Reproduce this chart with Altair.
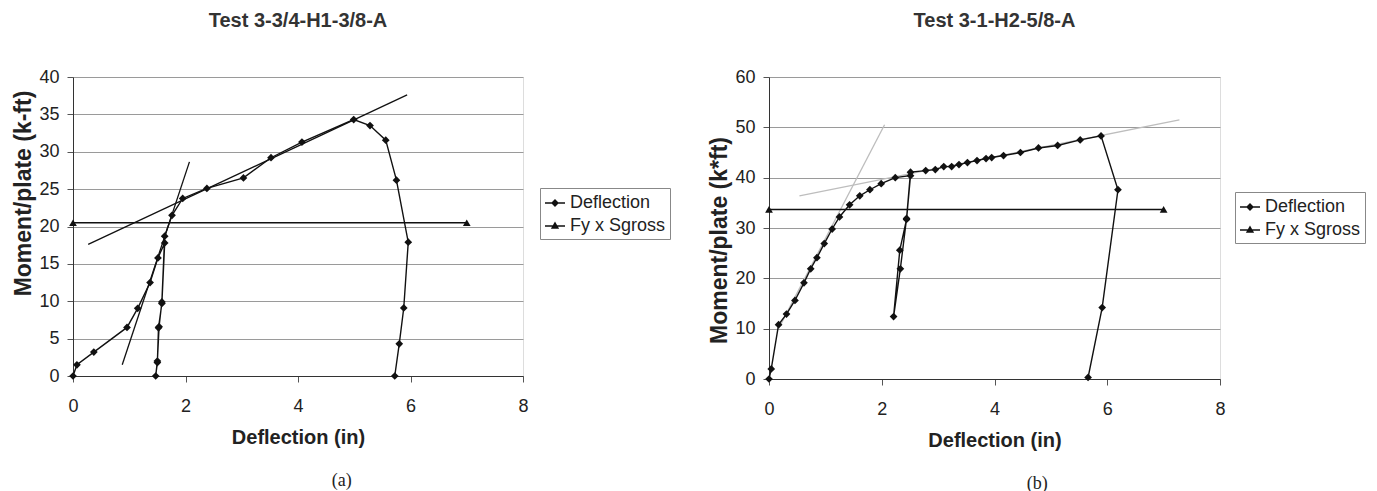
import altair as alt
import pandas as pd

# ---------------- data: panel (a) ----------------
a_defl_x = [0.00, 0.07, 0.37, 0.96, 1.15, 1.37, 1.51, 1.63, 1.58, 1.52, 1.50, 1.47,
            1.50, 1.53, 1.58, 1.63, 1.76, 1.95, 2.38, 3.03, 3.52, 4.07, 4.99,
            5.28, 5.56, 5.75, 5.96, 5.88, 5.80, 5.72]
a_defl_y = [0.0, 1.5, 3.2, 6.5, 9.05, 12.5, 15.8, 17.8, 9.7, 6.45, 1.8, 0.0,
            2.0, 6.6, 9.9, 18.7, 21.5, 23.75, 25.1, 26.5, 29.2, 31.3, 34.3,
            33.5, 31.55, 26.2, 17.9, 9.1, 4.3, 0.0]
a_fy_x = [0.0, 7.0]
a_fy_y = [20.5, 20.5]
a_fit1_x = [0.875, 2.07]
a_fit1_y = [1.5, 28.65]
a_fit2_x = [0.27, 5.94]
a_fit2_y = [17.6, 37.6]

# ---------------- data: panel (b) ----------------
b_defl_x = [0.00, 0.04, 0.17, 0.31, 0.46, 0.62, 0.74, 0.85, 0.98, 1.12, 1.25, 1.43,
            1.61, 1.79, 1.99, 2.24, 2.51, 2.44, 2.32, 2.21, 2.33, 2.44, 2.51, 2.78,
            2.95, 3.10, 3.24, 3.37, 3.52, 3.69, 3.85, 3.95, 4.16, 4.46, 4.78, 5.12,
            5.52, 5.89, 6.19, 5.91, 5.66]
b_defl_y = [0.0, 2.0, 10.8, 12.9, 15.6, 19.1, 21.9, 24.1, 26.9, 29.8, 32.2, 34.6,
            36.4, 37.6, 38.8, 40.0, 40.4, 31.7, 25.6, 12.4, 21.9, 31.9, 41.1, 41.4,
            41.6, 42.2, 42.2, 42.6, 43.0, 43.4, 43.8, 44.0, 44.4, 45.0, 45.9, 46.4,
            47.5, 48.3, 37.6, 14.2, 0.3]
b_fy_x = [0.0, 7.0]
b_fy_y = [33.7, 33.7]
b_fit1_x = [0.17, 2.05]
b_fit1_y = [10.0, 50.5]
b_fit2_x = [0.54, 7.28]
b_fit2_y = [36.4, 51.5]

series_names = ["Deflection", "Fy x Sgross"]
x_ticks = [0, 2, 4, 6, 8]

FONT = "Liberation Sans"
# legend glyphs: a short line with a (stroke-filled) marker in its middle
LEG_DIAMOND = ("M-1,0L1,0"
               "M-0.3,0L0,-0.3L0.3,0L0,0.3Z"
               "M-0.2,0L0,-0.2L0.2,0L0,0.2Z"
               "M-0.1,0L0,-0.1L0.1,0L0,0.1Z")
LEG_TRIANGLE = ("M-1,0L1,0"
                "M-0.3,0.2L0,-0.32L0.3,0.2Z"
                "M-0.2,0.13L0,-0.2L0.2,0.13Z"
                "M-0.1,0.06L0,-0.1L0.1,0.06Z")


def panel(dx, dy, fx, fyv, fits, fit_color, title, ymax, ystep, ytitle, ytitle_y,
          w, h, leg_x, leg_y):
    defl = pd.DataFrame({"x": dx, "y": dy, "i": list(range(len(dx)))})
    fy = pd.DataFrame({"x": fx, "y": fyv})
    rows = []
    for k, (xs, ys) in enumerate(fits):
        for xv, yv in zip(xs, ys):
            rows.append({"fit": k, "x": xv, "y": yv})
    fitdf = pd.DataFrame(rows)
    legdf = pd.DataFrame({"series": series_names, "x": fx, "y": fyv})

    xenc = alt.X("x:Q",
                 scale=alt.Scale(domain=[0, 8], nice=False, zero=False),
                 axis=alt.Axis(values=x_ticks, title="Deflection (in)", grid=False,
                               labelFont=FONT, labelFontSize=18, labelColor="#222",
                               titleFont=FONT, titleFontSize=20, titleFontWeight="bold",
                               titleColor="#222", domainColor="#333", tickColor="#555",
                               tickSize=6, labelPadding=15, titlePadding=12,
                               labelFlush=False))
    yenc = alt.Y("y:Q",
                 scale=alt.Scale(domain=[0, ymax], nice=False),
                 axis=alt.Axis(values=list(range(0, ymax + 1, ystep)), title=ytitle,
                               grid=True, gridColor="#9a9a9a", gridWidth=1,
                               labelFont=FONT, labelFontSize=18, labelColor="#222",
                               titleFont=FONT, titleFontSize=23, titleFontWeight="bold",
                               titleColor="#222", domainColor="#333", tickColor="#555",
                               tickSize=6, labelPadding=8, titlePadding=3,
                               titleY=ytitle_y))

    fit_layer = alt.Chart(fitdf).mark_line(color=fit_color, strokeWidth=1.3).encode(
        x=xenc, y=yenc, detail="fit:N")
    defl_line = alt.Chart(defl).mark_line(color="#111", strokeWidth=1.4).encode(
        x=xenc, y=yenc, order="i:Q")
    defl_pts = alt.Chart(defl).mark_point(shape="diamond", filled=True, color="#111",
                                          size=60, opacity=1).encode(x=xenc, y=yenc)
    fy_line = alt.Chart(fy).mark_line(color="#111", strokeWidth=1.5).encode(x=xenc, y=yenc)
    fy_pts = alt.Chart(fy).mark_point(shape="triangle-up", filled=True, color="#111",
                                      size=60, opacity=1).encode(x=xenc, y=yenc)
    leg_layer = alt.Chart(legdf).mark_point(filled=False, color="#111",
                                            strokeWidth=1.3, opacity=0).encode(
        x=xenc, y=yenc,
        shape=alt.Shape("series:N",
                        scale=alt.Scale(domain=series_names,
                                        range=[LEG_DIAMOND, LEG_TRIANGLE]),
                        legend=alt.Legend(title=None, orient="none",
                                          legendX=leg_x, legendY=leg_y,
                                          symbolSize=400, symbolOpacity=1,
                                          symbolStrokeColor="#111",
                                          symbolStrokeWidth=1.3,
                                          labelFont=FONT, labelFontSize=18,
                                          labelColor="#222", labelOffset=4,
                                          rowPadding=3, padding=4,
                                          strokeColor="#888", fillColor="white")))

    layer = alt.layer(fit_layer, defl_line, defl_pts, fy_line, fy_pts, leg_layer).properties(
        width=w, height=h,
        title=alt.Title(title, font=FONT, fontSize=20, fontWeight="bold", color="#333",
                        anchor="middle", frame="group", offset=37))
    return layer


pa = panel(a_defl_x, a_defl_y, a_fy_x, a_fy_y,
           [(a_fit1_x, a_fit1_y), (a_fit2_x, a_fit2_y)], "#111",
           "Test 3-3/4-H1-3/8-A", 40, 5, "Moment/plate (k-ft)", 116,
           450, 299, 467, 111)
pb = panel(b_defl_x, b_defl_y, b_fy_x, b_fy_y,
           [(b_fit1_x, b_fit1_y), (b_fit2_x, b_fit2_y)], "#bdbdbd",
           "Test 3-1-H2-5/8-A", 60, 10, "Moment/plate (k*ft)", 163,
           451, 302, 466, 115)

cap_kw = dict(orient="bottom", font="Liberation Serif", fontSize=18,
              fontWeight="normal", color="#222", anchor="middle", offset=24)
ca = alt.vconcat(pa, title=alt.Title("(a)", **cap_kw)).resolve_scale(shape="independent")
cb = alt.vconcat(pb, title=alt.Title("(b)", **cap_kw)).resolve_scale(shape="independent")

chart = alt.hconcat(ca, cb, spacing=37).resolve_scale(shape="independent").properties(
    padding={"left": 4, "top": 2, "right": 0, "bottom": 0}
).configure_view(stroke="#8a8a8a", strokeWidth=1).configure(background="white")

chart.save("out.html", embed_options={"renderer": "svg", "actions": False})
